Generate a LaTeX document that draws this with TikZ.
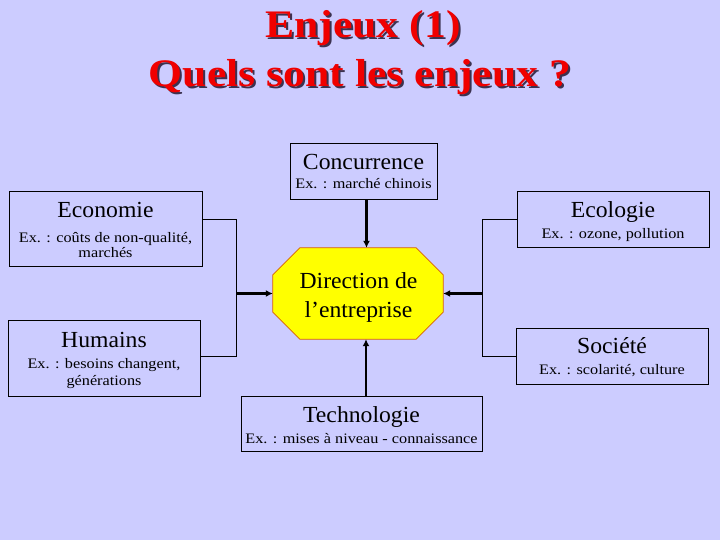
\documentclass[tikz,border=0pt]{standalone}
\usepackage{fontspec}
\setmainfont{Liberation Serif}
\usetikzlibrary{arrows.meta}
\definecolor{bg}{RGB}{204,204,255}
\definecolor{octfill}{RGB}{255,255,0}
\definecolor{octline}{RGB}{215,95,0}
\definecolor{titred}{RGB}{240,0,0}
\definecolor{shadowc}{RGB}{60,50,80}
\newcommand{\TitleFont}{\fontsize{39}{44}\selectfont\bfseries}
\newcommand{\HeadFont}{\fontsize{23}{26}\selectfont}
\newcommand{\SubFont}{\fontsize{14.5}{17}\selectfont}
\newcommand{\sxT}[1]{\scalebox{1.12}[1]{#1}}
\newcommand{\sxH}[1]{\scalebox{1.03}[1]{#1}}
\newcommand{\sxS}[1]{\scalebox{1.12}[1]{#1}}
\tikzset{
  box/.style={draw=black, line width=0.8pt, inner sep=0pt},
  hd/.style={anchor=base, inner sep=0pt, font=\HeadFont},
  sb/.style={anchor=base, inner sep=0pt, font=\SubFont},
  ttl/.style={anchor=base, inner sep=0pt, font=\TitleFont, text=titred},
  ttlsh/.style={anchor=base, inner sep=0pt, font=\TitleFont, text=shadowc},
  arr/.style={line width=2.2pt, -{Latex[length=7pt,width=7pt]}},
  link/.style={line width=0.9pt},
}
\begin{document}
\begin{tikzpicture}[x=1pt,y=-1pt]
\fill[bg] (0,0) rectangle (720,540);
\useasboundingbox (0,0) rectangle (720,540);

% Title
\node[ttlsh] (t1s) at (365,40) {\sxT{Enjeux (1)}};
\node[ttl] (t1) at (363,38) {\sxT{Enjeux (1)}};
\node[ttlsh] (t2s) at (362,89) {\sxT{Quels sont les enjeux ?}};
\node[ttl] (t2) at (360,87) {\sxT{Quels sont les enjeux ?}};

% Boxes
\node[box, minimum width=147, minimum height=56] (conc) at (363.5,171) {};
\node[box, minimum width=193, minimum height=75] (eco) at (105.5,228.5) {};
\node[box, minimum width=192, minimum height=76] (hum) at (104,358) {};
\node[box, minimum width=192, minimum height=56] (ecol) at (613,219) {};
\node[box, minimum width=192, minimum height=56] (soc) at (612,356) {};
\node[box, minimum width=241, minimum height=55] (tech) at (361.5,423.5) {};

% Octagon
\node[minimum width=170, minimum height=91, inner sep=0pt] (oct) at (358,293.5) {};
\draw[fill=octfill, draw=octline, line width=0.8pt]
  ([xshift=27pt]oct.north west) -- ([xshift=-27pt]oct.north east)
  -- ([yshift=-27pt]oct.north east) -- ([yshift=27pt]oct.south east)
  -- ([xshift=-27pt]oct.south east) -- ([xshift=27pt]oct.south west)
  -- ([yshift=27pt]oct.south west) -- ([yshift=-27pt]oct.north west) -- cycle;

% Texts
\node[hd] (conc-t) at (363.5,170) {\sxH{Concurrence}};
\node[sb] (conc-s) at (363.5,189) {\sxS{Ex. : marché chinois}};

\node[hd] (eco-t) at (105.5,218) {\sxH{Economie}};
\node[sb] (eco-s1) at (105.5,242) {\sxS{Ex. : coûts de non-qualité,}};
\node[sb] (eco-s2) at (105.5,258) {\sxS{marchés}};

\node[hd] (hum-t) at (104,347) {\sxH{Humains}};
\node[sb] (hum-s1) at (104,368) {\sxS{Ex. : besoins changent,}};
\node[sb] (hum-s2) at (104,385) {\sxS{générations}};

\node[hd] (ecol-t) at (613,218) {\sxH{Ecologie}};
\node[sb] (ecol-s) at (613,239) {\sxS{Ex. : ozone, pollution}};

\node[hd] (soc-t) at (612,353) {\sxH{Société}};
\node[sb] (soc-s) at (612,374) {\sxS{Ex. : scolarité, culture}};

\node[hd] (tech-t) at (361.5,422) {\sxH{Technologie}};
\node[sb] (tech-s) at (361.5,443) {\sxS{Ex. : mises à niveau - connaissance}};

\node[hd] (oct-t1) at (358.5,288) {\sxH{Direction de}};
\node[hd] (oct-t2) at (358.5,317) {\sxH{l’entreprise}};

% Junctions
\coordinate (jl) at (236,293.5);
\coordinate (jr) at (482,293.5);

% Brackets
\draw[link] (eco.east |- ecol.west) -- (jl |- ecol.west) -- (jl |- soc.west) -- (hum.east |- soc.west);
\draw[link] (ecol.west) -- (jr |- ecol.west) -- (jr |- soc.west) -- (soc.west);

% Arrows
\draw[arr] (jl) -- (oct.west);
\draw[arr] (jr) -- (oct.east);
\draw[arr] ([xshift=3pt]conc.south) -- ([xshift=3pt]conc.south |- oct.north);
\draw[arr] ([xshift=4.5pt]tech.north) -- ([xshift=4.5pt]tech.north |- oct.south);
\end{tikzpicture}
\end{document}
